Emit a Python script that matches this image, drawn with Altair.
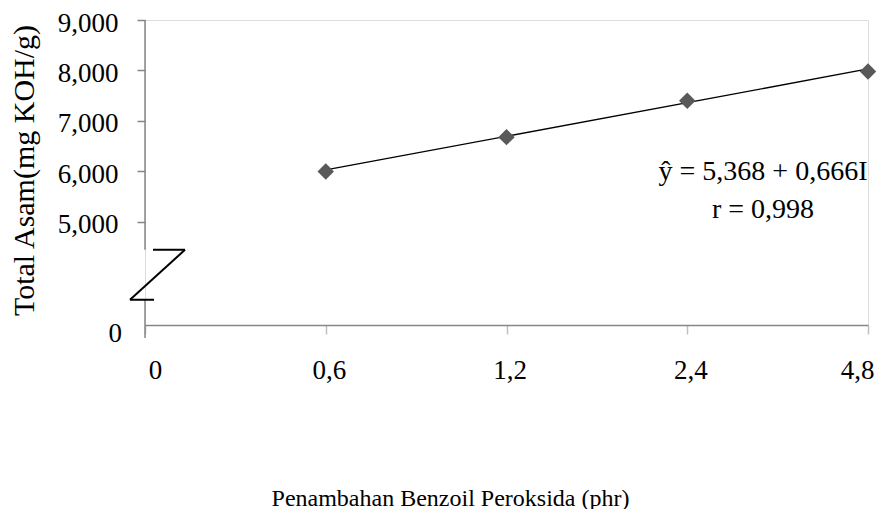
import altair as alt
import pandas as pd

# ---- data ----
x_categories = ["0", "0,6", "1,2", "2,4", "4,8"]
point_x = ["0,6", "1,2", "2,4", "4,8"]
point_y = [6.00, 6.68, 7.40, 7.98]
trend_x = ["0,6", "4,8"]
trend_y = [6.03, 8.03]
y_ticks = [5, 6, 7, 8, 9]
y_domain = [2.96, 9]
y_zero_label = ["0"]
axis_break = [4.45, 3.46]          # y values where the axis line is interrupted
equation_lines = ["\u0177 = 5,368 + 0,666I", "r = 0,998"]
x_title = "Penambahan Benzoil Peroksida (phr)"
y_title = "Total Asam(mg KOH/g)"

FONT = "Liberation Serif"
W, H = 723, 305

pts = pd.DataFrame({"x": point_x, "y": point_y})
trend = pd.DataFrame({"x": trend_x, "y": trend_y})

xscale = alt.Scale(type="point", domain=x_categories, padding=0)
yscale = alt.Scale(domain=y_domain, nice=False, zero=False)

x_axis = alt.Axis(
    domainColor="#868686", domainWidth=1.5,
    tickColor="#c0c0c0", tickSize=9, tickWidth=1.5,
    labelFont=FONT, labelFontSize=27, labelColor="black", labelAngle=0,
    labelPadding=23,
    labelOffset={"condition": [
        {"test": "datum.label == '0'", "value": 10},
        {"test": "datum.label == '4,8'", "value": -11},
    ], "value": 3},
    title=x_title, titleFont=FONT, titleFontSize=24, titleFontWeight="normal",
    titleColor="black", titleX=305, titleY=180, titleBaseline="alphabetic",
    titleAlign="center", grid=False,
)
y_axis = alt.Axis(
    values=y_ticks, domain=False,
    tickColor="#868686", tickSize=8, tickWidth=1.5,
    labelExpr="replace(format(datum.value, '.3f'), '.', ',')",
    labelFont=FONT, labelFontSize=27, labelColor="black", labelPadding=19,
    labelOffset=3,
    title=y_title, titleFont=FONT, titleFontSize=30, titleFontWeight="normal",
    titleColor="black", titleX=-112, titleY=150, titleAngle=270,
    titleBaseline="alphabetic", titleAlign="center", grid=False,
)

line = alt.Chart(trend).mark_line(color="black", strokeWidth=1.3).encode(
    x=alt.X("x:N", scale=xscale, axis=x_axis, sort=x_categories),
    y=alt.Y("y:Q", scale=yscale, axis=y_axis),
)
points = alt.Chart(pts).mark_point(
    shape="diamond", filled=True, size=270, color="#595959", opacity=1
).encode(
    x=alt.X("x:N", scale=xscale, sort=x_categories),
    y=alt.Y("y:Q", scale=yscale),
)

AX = "#868686"
one = pd.DataFrame({"a": [0]})
upper_axis = alt.Chart(one).mark_rule(color=AX, strokeWidth=1.5).encode(
    x=alt.value(0), y=alt.datum(y_domain[1]), y2=alt.datum(axis_break[0])
)
lower_axis = alt.Chart(one).mark_rule(color=AX, strokeWidth=1.5).encode(
    x=alt.value(0), y=alt.datum(axis_break[1]), y2=alt.value(H + 13)
)
brk = alt.Chart(one)
stub1 = brk.mark_rule(color="black", strokeWidth=2).encode(
    x=alt.value(8), x2=alt.value(40), y=alt.datum(axis_break[0]))
diag = brk.mark_rule(color="black", strokeWidth=2).encode(
    x=alt.value(40), x2=alt.value(-15), y=alt.datum(axis_break[0]), y2=alt.datum(axis_break[1]))
stub2 = brk.mark_rule(color="black", strokeWidth=2).encode(
    x=alt.value(-15), x2=alt.value(9), y=alt.datum(axis_break[1]))

zero_lbl = alt.Chart(pd.DataFrame({"t": y_zero_label})).mark_text(
    font=FONT, fontSize=27, color="black", align="right", baseline="middle", dy=9
).encode(x=alt.value(-23), y=alt.datum(y_domain[0]), text="t:N")

eq = alt.Chart(one).mark_text(
    font=FONT, fontSize=28, color="black", align="center", baseline="middle",
    lineHeight=38, text=equation_lines
).encode(x=alt.value(618), y=alt.value(152))

chart = alt.layer(
    upper_axis, lower_axis, stub1, diag, stub2, line, points, zero_lbl, eq
).properties(
    width=W, height=H,
    autosize=alt.AutoSizeParams(type="none"),
    padding={"left": 137, "top": 12, "right": 11, "bottom": 184},
).configure_view(stroke=None).configure(background="white")

chart.save("out.html", embed_options={"renderer": "svg", "actions": False})
